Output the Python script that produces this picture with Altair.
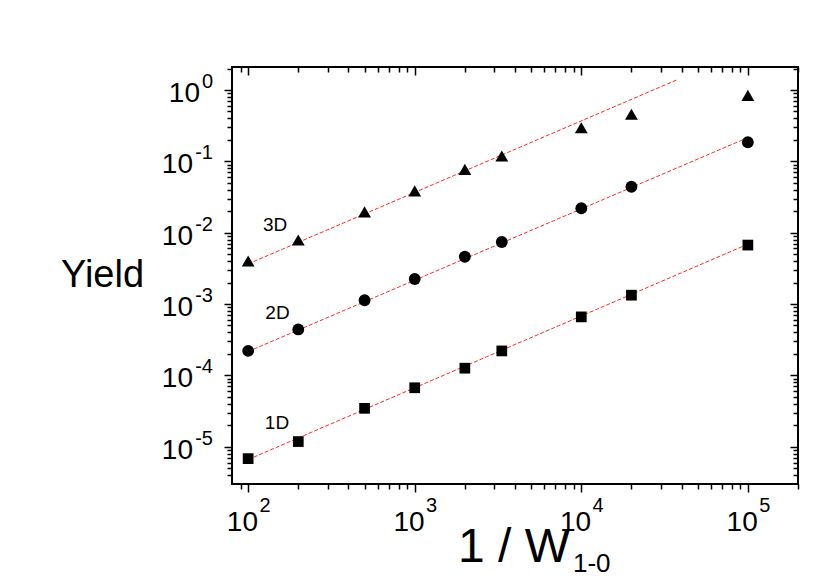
import altair as alt
import pandas as pd

FONT = "Liberation Sans"

# ---- data ----
SERIES = ["1D", "2D", "3D"]
X_VALUES = [100, 200, 500, 1000, 2000, 3333, 10000, 20000, 100000]
Y_1D = [6.8e-6, 1.18e-5, 3.45e-5, 6.7e-5, 1.26e-4, 2.2e-4, 6.6e-4, 1.33e-3, 6.7e-3]
Y_2D = [2.2e-4, 4.4e-4, 1.13e-3, 2.24e-3, 4.6e-3, 7.4e-3, 0.022, 0.044, 0.185]
Y_3D = [4.0e-3, 7.9e-3, 0.0196, 0.0386, 0.077, 0.119, 0.296, 0.457, 0.84]

FIT_X_1D = [100, 100000]
FIT_Y_1D = [6.6e-6, 6.9e-3]
FIT_X_2D = [100, 100000]
FIT_Y_2D = [2.16e-4, 0.215]
FIT_X_3D = [100, 37300]
FIT_Y_3D = [3.65e-3, 1.38]

LABEL_TEXT = ["1D", "2D", "3D"]
LABEL_X = [149, 150, 145]
LABEL_Y = [1.79e-5, 6.1e-4, 1.07e-2]

X_DOMAIN = [80, 200000]
Y_DOMAIN = [3e-6, 2.1]

X_DECADES = [100, 1000, 10000, 100000]
X_EXPONENTS = ["2", "3", "4", "5"]
X_MINOR = [90,
           200, 300, 400, 500, 600, 700, 800, 900,
           2000, 3000, 4000, 5000, 6000, 7000, 8000, 9000,
           20000, 30000, 40000, 50000, 60000, 70000, 80000, 90000,
           200000]
Y_DECADES = [1e-5, 1e-4, 1e-3, 1e-2, 1e-1, 1]
Y_EXPONENTS = ["-5", "-4", "-3", "-2", "-1", "0"]
Y_MINOR = [4e-6, 5e-6, 6e-6, 7e-6, 8e-6, 9e-6,
           2e-5, 3e-5, 4e-5, 5e-5, 6e-5, 7e-5, 8e-5, 9e-5,
           2e-4, 3e-4, 4e-4, 5e-4, 6e-4, 7e-4, 8e-4, 9e-4,
           2e-3, 3e-3, 4e-3, 5e-3, 6e-3, 7e-3, 8e-3, 9e-3,
           2e-2, 3e-2, 4e-2, 5e-2, 6e-2, 7e-2, 8e-2, 9e-2,
           0.2, 0.3, 0.4, 0.5, 0.6, 0.7, 0.8, 0.9,
           2]

Y_TITLE = "Yield"
X_TITLE_MAIN = "1 / W"
X_TITLE_SUB = "1-0"

# ---- tables ----
pts_df = pd.DataFrame({
    "x": X_VALUES * 3,
    "y": Y_1D + Y_2D + Y_3D,
    "series": [s for s in SERIES for _ in X_VALUES],
})
fit_df = pd.DataFrame({
    "x": FIT_X_1D + FIT_X_2D + FIT_X_3D,
    "y": FIT_Y_1D + FIT_Y_2D + FIT_Y_3D,
    "series": ["1D", "1D", "2D", "2D", "3D", "3D"],
})
lab_df = pd.DataFrame({"x": LABEL_X, "y": LABEL_Y, "label": LABEL_TEXT})
xlab_df = pd.DataFrame({"x": X_DECADES, "exp": X_EXPONENTS, "base": ["10"] * len(X_DECADES)})
ylab_df = pd.DataFrame({"y": Y_DECADES, "exp": Y_EXPONENTS, "base": ["10"] * len(Y_DECADES)})
ylab_neg = ylab_df[ylab_df["exp"] != "0"]
ylab_zero = ylab_df[ylab_df["exp"] == "0"]
title_df = pd.DataFrame({"yt": [Y_TITLE], "xm": [X_TITLE_MAIN], "xs": [X_TITLE_SUB]})

xscale = alt.Scale(type="log", domain=X_DOMAIN, nice=False)
yscale = alt.Scale(type="log", domain=Y_DOMAIN, nice=False)


def ax(orient, values, size, offset=0):
    return alt.Axis(orient=orient, values=values, tickSize=size, offset=offset,
                    labels=False, domain=False, grid=False, ticks=True,
                    tickColor="black", tickWidth=1.5, title=None)


lines = alt.Chart(fit_df).mark_line(color="#ff2a2a", strokeWidth=1, strokeDash=[4, 2]).encode(
    x=alt.X("x:Q", scale=xscale, axis=ax("bottom", X_DECADES, 8)),
    y=alt.Y("y:Q", scale=yscale, axis=ax("left", Y_DECADES, 8)),
    detail="series:N",
)

points = alt.Chart(pts_df).mark_point(filled=True, opacity=1, color="black").encode(
    x=alt.X("x:Q", scale=xscale, axis=ax("bottom", X_MINOR, 5)),
    y=alt.Y("y:Q", scale=yscale, axis=ax("left", Y_MINOR, 5)),
    shape=alt.Shape("series:N", scale=alt.Scale(domain=SERIES, range=["square", "circle", "triangle-up"]), legend=None),
    size=alt.Size("series:O", scale=alt.Scale(domain=SERIES, range=[115, 165, 215]), legend=None),
)

labels = alt.Chart(lab_df).mark_text(fontSize=19, font=FONT, baseline="alphabetic", align="center", color="black").encode(
    x=alt.X("x:Q", scale=xscale, axis=ax("top", X_DECADES, 8, -8)),
    y=alt.Y("y:Q", scale=yscale, axis=ax("right", Y_DECADES, 8, -8)),
    text="label:N",
)

x_base = alt.Chart(xlab_df).mark_text(fontSize=28, font=FONT, align="center", baseline="alphabetic", dx=-5.7, color="black").encode(
    x=alt.X("x:Q", scale=xscale, axis=ax("top", X_MINOR, 5, -5)),
    y=alt.value(464),
    text="base:N",
)
x_exp = alt.Chart(xlab_df).mark_text(fontSize=20, font=FONT, align="left", baseline="alphabetic", dx=11.3, color="black").encode(
    x=alt.X("x:Q", scale=xscale, axis=None),
    y=alt.value(444.7),
    text="exp:N",
)

y_base_neg = alt.Chart(ylab_neg).mark_text(fontSize=28, font=FONT, align="right", baseline="alphabetic", dy=12, color="black").encode(
    x=alt.value(-39),
    y=alt.Y("y:Q", scale=yscale, axis=ax("right", Y_MINOR, 5, -5)),
    text="base:N",
)
y_base_zero = alt.Chart(ylab_zero).mark_text(fontSize=28, font=FONT, align="right", baseline="alphabetic", dy=12, color="black").encode(
    x=alt.value(-32),
    y=alt.Y("y:Q", scale=yscale, axis=None),
    text="base:N",
)
y_exp = alt.Chart(ylab_df).mark_text(fontSize=20, font=FONT, align="right", baseline="alphabetic", dy=-2, color="black").encode(
    x=alt.value(-19),
    y=alt.Y("y:Q", scale=yscale, axis=None),
    text="exp:N",
)

y_title = alt.Chart(title_df).mark_text(fontSize=38, font=FONT, align="center", baseline="alphabetic", color="black").encode(
    x=alt.value(-129.5), y=alt.value(220), text="yt:N")
x_title = alt.Chart(title_df).mark_text(fontSize=48, font=FONT, align="right", baseline="alphabetic", color="black").encode(
    x=alt.value(338), y=alt.value(495), text="xm:N")
x_title_sub = alt.Chart(title_df).mark_text(fontSize=26, font=FONT, align="left", baseline="alphabetic", color="black").encode(
    x=alt.value(341), y=alt.value(504.5), text="xs:N")

chart = alt.layer(
    lines, points, labels, x_base, x_exp, y_base_neg, y_base_zero, y_exp,
    y_title, x_title, x_title_sub,
).resolve_axis(x="independent", y="independent").properties(
    width=566, height=417,
    autosize=alt.AutoSizeParams(type="none"),
    padding={"left": 224, "top": 59, "right": 16, "bottom": 97},
    background="white",
).configure_view(stroke="black", strokeWidth=2)

chart.save("out.html", embed_options={"renderer": "svg", "actions": False})
